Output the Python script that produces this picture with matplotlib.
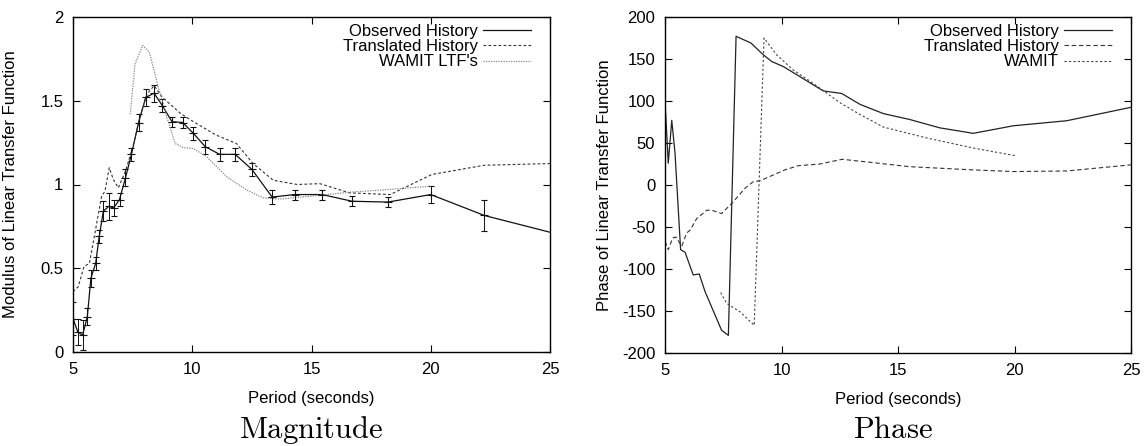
import matplotlib
matplotlib.use("Agg")
import matplotlib.pyplot as plt

# ---- Magnitude panel data ----
obs_x = [5.0, 5.2, 5.4, 5.6, 5.75, 5.95, 6.1, 6.27, 6.5, 6.7, 6.95, 7.2, 7.45, 7.75,
         8.05, 8.4, 8.75, 9.15, 9.6, 10.05, 10.55, 11.15, 11.8, 12.5, 13.35, 14.3,
         15.45, 16.7, 18.2, 20.0, 22.25, 25.0]
obs_y = [0.20, 0.12, 0.10, 0.21, 0.44, 0.53, 0.69, 0.84, 0.87, 0.86, 0.91, 1.04, 1.18, 1.37,
         1.52, 1.545, 1.47, 1.375, 1.37, 1.305, 1.225, 1.18, 1.18, 1.09, 0.925, 0.94,
         0.94, 0.90, 0.895, 0.94, 0.815, 0.715]
obs_err = [0.10, 0.08, 0.09, 0.05, 0.05, 0.04, 0.04, 0.06, 0.08, 0.05, 0.04, 0.05, 0.04, 0.05,
           0.05, 0.05, 0.04, 0.03, 0.03, 0.04, 0.04, 0.04, 0.04, 0.04, 0.04, 0.03,
           0.03, 0.03, 0.03, 0.05, 0.09]

tr_x = [5.0, 5.22, 5.46, 5.69, 5.92, 6.2, 6.34, 6.52, 6.69, 6.9, 7.2, 7.5, 7.8, 8.1, 8.4,
        8.75, 9.5, 10.05, 11.0, 11.85, 12.55, 13.4, 14.4, 15.35, 16.6, 18.3, 20.05, 22.25, 25.0]
tr_y = [0.36, 0.39, 0.51, 0.53, 0.71, 0.93, 0.96, 1.10, 1.03, 0.98, 1.08, 1.22, 1.40, 1.54, 1.59,
        1.52, 1.425, 1.375, 1.295, 1.245, 1.125, 1.025, 1.0, 1.005, 0.95, 0.94, 1.06, 1.115, 1.125]

wam_x = [7.4, 7.6, 7.92, 8.2, 8.58, 8.93, 9.28, 9.62, 10.04, 10.6, 11.44, 12.28, 12.98,
         13.68, 14.94, 16.7, 18.2, 20.0]
wam_y = [1.42, 1.72, 1.83, 1.79, 1.58, 1.405, 1.245, 1.22, 1.215, 1.166, 1.047, 0.967, 0.92,
         0.913, 0.93, 0.955, 0.97, 0.99]

# ---- Phase panel data ----
ph_obs_x = [5.0, 5.14, 5.29, 5.43, 5.67, 5.86, 6.21, 6.47, 6.72, 7.43, 7.72, 8.05, 8.69,
            9.22, 9.58, 10.08, 10.79, 11.79, 12.58, 13.37, 14.37, 15.5, 16.8, 18.23, 19.95,
            22.24, 25.0]
ph_obs_y = [100, 26, 77, 38, -77, -80, -107, -106, -127, -173, -179, 177, 169,
            155, 147, 141, 129, 112, 109, 96, 85, 78, 68, 61.5, 70.5,
            76.5, 92.5]

ph_tr_x = [5.0, 5.14, 5.33, 5.47, 5.72, 5.93, 6.07, 6.36, 6.79, 7.0, 7.43, 7.93, 8.43, 8.79,
           9.08, 9.65, 10.15, 10.72, 11.65, 12.6, 13.94, 15.5, 18.23, 19.95, 22.24, 25.0]
ph_tr_y = [-67, -77, -63, -62, -73, -57, -54, -40, -30, -30, -34, -20, -4, 4,
           5, 12, 18, 23, 25, 30.6, 26.6, 21.8, 18, 16, 16.7, 24]

ph_wam_x = [7.39, 7.65, 8.22, 8.83, 9.25, 9.79, 10.5, 11.36, 12.51, 13.3, 14.37, 16.23, 18.23, 20.02]
ph_wam_y = [-128, -141, -151, -167, 175, 155, 137, 121, 98, 85, 69, 56, 44, 35]

plt.rcParams['font.family'] = ['Liberation Sans', 'DejaVu Sans']
plt.rcParams['mathtext.fontset'] = 'cm'
plt.rcParams['axes.unicode_minus'] = False
plt.rcParams['font.size'] = 12

W, H = 1145, 446
fig = plt.figure(figsize=(W / 100, H / 100), dpi=100)


def px_axes(x0, x1, y0, y1):
    # pixel box -> figure fraction
    return fig.add_axes([x0 / W, 1 - y1 / H, (x1 - x0) / W, (y1 - y0) / H])


def style(ax):
    ax.tick_params(direction='in', top=True, right=True, length=5, width=0.8, pad=7,
                   labelsize=12)
    for s in ax.spines.values():
        s.set_linewidth(1.0)
    ax.set_xlim(5, 25)
    ax.set_xticks([5, 10, 15, 20, 25])
    ax.set_xlabel('Period (seconds)', fontsize=12, labelpad=10)


def add_legend(ax, width_px):
    # gnuplot-like key: text right-aligned, sample on the right
    ax.legend(loc='upper right', bbox_to_anchor=(1 - 12 / width_px, 1.0),
              frameon=False, markerfirst=False, fontsize=12,
              handlelength=2.9, handletextpad=0.3, labelspacing=0.02,
              borderaxespad=0.0, borderpad=0.4)


# ---- Magnitude ----
ax1 = px_axes(73, 550, 17, 352)
ax1.plot(obs_x, obs_y, color='#111111', lw=0.9, label='Observed History')
ax1.errorbar(obs_x[:-1], obs_y[:-1], yerr=obs_err, fmt='+', color='#111111', ms=6,
             mew=0.8, elinewidth=0.7, capsize=2.5, capthick=0.7)
ax1.plot(tr_x, tr_y, color='#333333', lw=0.8, ls=(0, (2.5, 2)), label='Translated History')
ax1.plot(wam_x, wam_y, color='#888888', lw=0.9, ls=(0, (1, 1)), label="WAMIT LTF's")
style(ax1)
ax1.set_ylim(0, 2)
ax1.set_yticks([0, 0.5, 1, 1.5, 2])
ax1.set_yticklabels(['0', '0.5', '1', '1.5', '2'])
ax1.set_ylabel('Modulus of Linear Transfer Function', fontsize=12)
ax1.yaxis.set_label_coords(-0.115, 0.5)
add_legend(ax1, 477)

# ---- Phase ----
ax2 = px_axes(665, 1131, 17, 353)
ax2.plot(ph_obs_x, ph_obs_y, color='#222222', lw=0.9, label='Observed History')
ax2.plot(ph_tr_x, ph_tr_y, color='#333333', lw=0.8, ls=(0, (4, 2.5)), label='Translated History')
ax2.plot(ph_wam_x, ph_wam_y, color='#444444', lw=0.8, ls=(0, (2, 2)), label='WAMIT')
style(ax2)
ax2.set_ylim(-200, 200)
ax2.set_yticks(range(-200, 201, 50))
ax2.set_ylabel('Phase of Linear Transfer Function', fontsize=12)
ax2.yaxis.set_label_coords(-0.114, 0.5)
add_legend(ax2, 466)

fig.text(311 / W, 1 - 430 / H, r'$\mathrm{Magnitude}$', ha='center', va='center', fontsize=22)
fig.text(893 / W, 1 - 430 / H, r'$\mathrm{Phase}$', ha='center', va='center', fontsize=22)

fig.savefig('out.png', dpi=100)
